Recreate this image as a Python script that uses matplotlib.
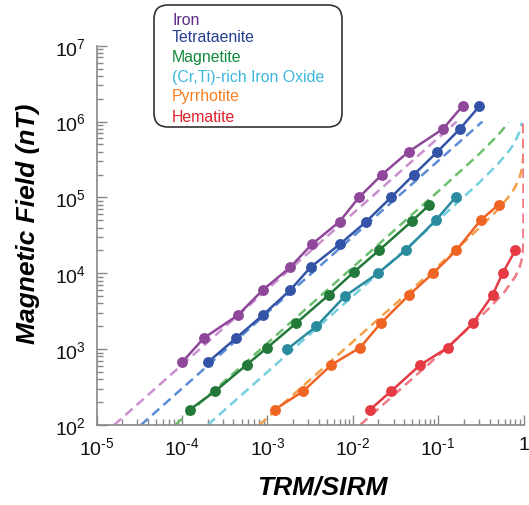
import matplotlib
matplotlib.use("Agg")
import matplotlib.pyplot as plt
from matplotlib.patches import FancyBboxPatch
from matplotlib.ticker import LogLocator, NullFormatter

plt.rcParams['font.family'] = ['Liberation Sans', 'DejaVu Sans']
plt.rcParams['mathtext.fontset'] = 'custom'
plt.rcParams['mathtext.rm'] = 'Liberation Sans'
plt.rcParams['mathtext.it'] = 'Liberation Sans:italic'
plt.rcParams['mathtext.bf'] = 'Liberation Sans:bold'

# measured points (TRM/SIRM, field in nT)
iron_x = [1.0e-4, 1.8e-4, 4.5e-4, 8.8e-4, 1.85e-3, 3.3e-3, 7.0e-3, 1.18e-2, 2.2e-2, 4.5e-2, 0.114, 0.193]
iron_B = [670, 1400, 2800, 6000, 1.2e4, 2.4e4, 4.8e4, 1.0e5, 2.0e5, 4.0e5, 8.0e5, 1.6e6]

tetra_x = [2.0e-4, 4.3e-4, 8.8e-4, 1.85e-3, 3.2e-3, 7.0e-3, 1.44e-2, 2.8e-2, 5.2e-2, 9.8e-2, 0.18, 0.305]
tetra_B = [670, 1400, 2800, 6000, 1.2e4, 2.4e4, 4.8e4, 1.0e5, 2.0e5, 4.0e5, 8.0e5, 1.6e6]

mag_x = [1.24e-4, 2.45e-4, 5.7e-4, 1.0e-3, 2.17e-3, 5.25e-3, 1.02e-2, 2.02e-2, 4.97e-2, 7.9e-2]
mag_B = [160, 280, 620, 1050, 2200, 5200, 1.03e4, 2.0e4, 4.9e4, 8.0e4]

crti_x = [1.71e-3, 3.75e-3, 8.1e-3, 1.97e-2, 4.15e-2, 9.4e-2, 0.16]
crti_B = [1000, 2000, 5000, 1.0e4, 2.0e4, 5.0e4, 1.0e5]

pyr_x = [1.22e-3, 2.64e-3, 5.6e-3, 1.22e-2, 2.13e-2, 4.58e-2, 8.7e-2, 0.163, 0.314, 0.51]
pyr_B = [160, 280, 620, 1050, 2200, 5200, 1.0e4, 2.0e4, 5.0e4, 8.0e4]

hem_x = [0.016, 0.0282, 0.0617, 0.130, 0.256, 0.435, 0.569, 0.80]
hem_B = [160, 280, 620, 1050, 2200, 5200, 1.0e4, 2.0e4]

# dashed model curves
iron_fit_x = [1.6e-5, 0.165]
iron_fit_B = [100, 1.0e6]
tetra_fit_x = [3.3e-5, 0.33]
tetra_fit_B = [100, 1.0e6]
mag_fit_x = [8.3e-5, 1e-3, 1e-2, 0.1, 0.3, 0.5, 0.67]
mag_fit_B = [100, 1200, 1.2e4, 1.2e5, 3.7e5, 6.6e5, 9.7e5]
crti_fit_x = [2e-4, 1e-2, 0.1, 0.3, 0.5, 0.7, 0.8, 0.9, 0.96]
crti_fit_B = [100, 5000, 5.0e4, 1.55e5, 2.75e5, 4.3e5, 5.5e5, 7.4e5, 9.7e5]
pyr_fit_x = [8e-4, 1e-2, 0.1, 0.3, 0.5, 0.7, 0.8, 0.9, 0.95, 0.98, 0.995, 0.9995, 1.0]
pyr_fit_B = [100, 1250, 1.25e4, 3.9e4, 6.9e4, 1.08e5, 1.37e5, 1.84e5, 2.3e5, 2.9e5, 3.7e5, 5.2e5, 1.0e6]
hem_fit_x = [0.0122, 0.05, 0.1, 0.2, 0.4, 0.6, 0.8, 0.9, 0.95, 0.98, 0.99, 0.999, 1.0]
hem_fit_B = [100, 410, 820, 1660, 3500, 5700, 9000, 1.2e4, 1.5e4, 1.9e4, 2.2e4, 3.1e4, 1.0e6]

names = ['Iron', 'Tetrataenite', 'Magnetite', '(Cr,Ti)-rich Iron Oxide', 'Pyrrhotite', 'Hematite']
name_colors = ['#5c2a86', '#263f8e', '#138a3c', '#3db6dd', '#f58025', '#e0202a']

x_ticks = [1e-5, 1e-4, 1e-3, 1e-2, 1e-1, 1]
x_ticklabels = [r'$\mathregular{10^{\text{-}5}}$', r'$\mathregular{10^{\text{-}4}}$',
                r'$\mathregular{10^{\text{-}3}}$', r'$\mathregular{10^{\text{-}2}}$',
                r'$\mathregular{10^{\text{-}1}}$', '1']
y_ticks = [1e2, 1e3, 1e4, 1e5, 1e6, 1e7]
y_ticklabels = [r'$\mathregular{10^{%d}}$' % k for k in range(2, 8)]

series = [
    (iron_x, iron_B, iron_fit_x, iron_fit_B, '#8f479a', '#c98fcf'),
    (tetra_x, tetra_B, tetra_fit_x, tetra_fit_B, '#3353a6', '#5a8bd6'),
    (mag_x, mag_B, mag_fit_x, mag_fit_B, '#22793a', '#6cbf6c'),
    (crti_x, crti_B, crti_fit_x, crti_fit_B, '#2a8a9e', '#74cfdf'),
    (pyr_x, pyr_B, pyr_fit_x, pyr_fit_B, '#f06423', '#f5a047'),
    (hem_x, hem_B, hem_fit_x, hem_fit_B, '#e53a44', '#ee7a85'),
]

W, H = 529, 506
fig = plt.figure(figsize=(W / 100, H / 100), dpi=100)
ax = fig.add_axes([96.7 / W, 1 - 426 / H, (523.5 - 96.7) / W, (426 - 46.7) / H])

for x, B, fx, fB, c, fc in series:
    ax.plot(fx, fB, color=fc, lw=1.8, dashes=(3.8, 2.2), zorder=2)
for x, B, fx, fB, c, fc in series:
    ax.plot(x, B, color=c, lw=1.8, marker='o', ms=6.8, zorder=3)

ax.set_xscale('log')
ax.set_yscale('log')
ax.set_xlim(1e-5, 1)
ax.set_ylim(1e2, 1e7)

ax.set_xticks(x_ticks)
ax.set_xticklabels(x_ticklabels)
ax.set_yticks(y_ticks)
ax.set_yticklabels(y_ticklabels)
ax.xaxis.set_minor_locator(LogLocator(base=10, subs=range(2, 10), numticks=20))
ax.yaxis.set_minor_locator(LogLocator(base=10, subs=range(2, 10), numticks=20))
ax.xaxis.set_minor_formatter(NullFormatter())
ax.yaxis.set_minor_formatter(NullFormatter())

ax.tick_params(which='major', direction='in', length=7, width=1, color='#888888',
               labelsize=14, pad=8, labelcolor='#111111')
ax.tick_params(which='minor', direction='in', length=4, width=1, color='#888888')
for s in ['top', 'right']:
    ax.spines[s].set_visible(False)
for s in ['left', 'bottom']:
    ax.spines[s].set_color('#888888')
    ax.spines[s].set_linewidth(1.2)

ax.set_xlabel('TRM/SIRM', fontsize=19, fontweight='bold', fontstyle='italic')
ax.xaxis.set_label_coords((322 - 96.7) / (523.5 - 96.7), -(488 - 426) / (426 - 46.7))
ax.xaxis.label.set_va('center')
ax.set_ylabel('Magnetic Field (nT)', fontsize=19, fontweight='bold', fontstyle='italic')
ax.yaxis.set_label_coords(-(96.7 - 28) / (523.5 - 96.7), (426 - 224) / (426 - 46.7))
ax.yaxis.label.set_va('center')

# legend box drawn in pixel space
ov = fig.add_axes([0, 0, 1, 1], facecolor='none')
ov.set_xlim(0, W)
ov.set_ylim(H, 0)
ov.axis('off')
box = FancyBboxPatch((154 + 14, 6 + 14), 188 - 28, 122 - 28,
                     boxstyle='round,pad=14', fc='white', ec='#333333', lw=1.2)
ov.add_patch(box)
baselines = [25, 42.3, 61.7, 81.7, 100.7, 121.7]
for name, col, yb in zip(names, name_colors, baselines):
    ov.text(172, yb, name, color=col, fontsize=11.4, va='baseline', ha='left')

fig.savefig('out.png', dpi=100)
